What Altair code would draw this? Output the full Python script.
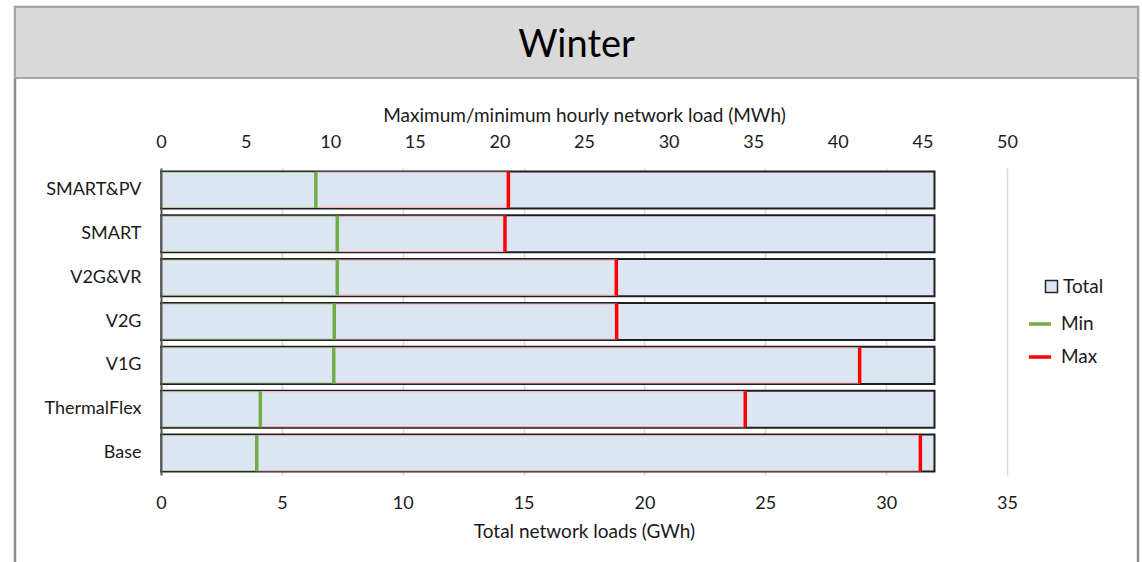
import altair as alt
import pandas as pd

# Scenario results for the winter period
scenarios = ["SMART&PV", "SMART", "V2G&VR", "V2G", "V1G", "ThermalFlex", "Base"]
total_gwh = [32.0, 32.0, 32.0, 32.0, 32.0, 32.0, 32.0]
min_mwh = [9.15, 10.42, 10.42, 10.24, 10.21, 5.87, 5.66]
max_mwh = [20.53, 20.33, 26.91, 26.93, 41.29, 34.53, 44.88]

gwh_ticks = [0, 5, 10, 15, 20, 25, 30, 35]
mwh_ticks = [0, 5, 10, 15, 20, 25, 30, 35, 40, 45, 50]

df = pd.DataFrame({
    "scenario": scenarios,
    "Total": total_gwh,
    "Min": min_mwh,
    "Max": max_mwh,
    "kind": ["Total"] * len(scenarios),
})

FONT = "Lato"
TXT = "#1a1a1a"
LABEL_SIZE = 18
TITLE_SIZE = 19
W, H = 846, 307

y_enc = alt.Y(
    "scenario:N",
    sort=scenarios,
    scale=alt.Scale(paddingInner=0.155, paddingOuter=0.0775),
    axis=alt.Axis(
        title=None, labelFont=FONT, labelFontSize=LABEL_SIZE, labelColor=TXT,
        labelPadding=20, ticks=False, domainColor="#595959", domainWidth=2,
        grid=False, zindex=1,
    ),
)

base = alt.Chart(df)

# Frame and header panel around the chart
deco = alt.Chart(pd.DataFrame({"k": [0]}))
frame = deco.mark_rect(fillOpacity=0, stroke="#8c8c8c", strokeWidth=2.5).encode(
    x=alt.value(-146), x2=alt.value(977), y=alt.value(-161), y2=alt.value(420)
)
header = deco.mark_rect(fill="#d9d9d9", stroke="#a6a6a6", strokeWidth=2).encode(
    x=alt.value(-146), x2=alt.value(977), y=alt.value(-161), y2=alt.value(-90)
)

# Total network load bars (GWh, bottom axis)
totals = base.mark_bar(stroke="#1f1f1f", strokeWidth=2).encode(
    y=y_enc,
    x=alt.X(
        "Total:Q",
        scale=alt.Scale(domain=[0, 35], nice=False, zero=True),
        axis=alt.Axis(
            orient="bottom", values=gwh_ticks, title="Total network loads (GWh)",
            grid=True, gridColor="#d9d9d9", gridWidth=1.5, ticks=False, tickSize=0,
            domain=False, labelFlush=False, labelFont=FONT, labelFontSize=LABEL_SIZE,
            labelColor=TXT, labelPadding=19, titleFont=FONT, titleFontSize=TITLE_SIZE,
            titleFontWeight="normal", titleColor=TXT, titlePadding=10,
        ),
    ),
    fill=alt.Fill(
        "kind:N",
        scale=alt.Scale(domain=["Total"], range=["#dce6f2"]),
        legend=alt.Legend(
            title=None, orient="none", legendX=881, legendY=109,
            symbolType="square", symbolSize=144, symbolStrokeColor="#262626",
            symbolStrokeWidth=1.5, labelFont=FONT, labelFontSize=TITLE_SIZE,
            labelColor=TXT, labelOffset=2,
        ),
    ),
)

mwh_axis = alt.Axis(
    orient="top", values=mwh_ticks, title="Maximum/minimum hourly network load (MWh)",
    grid=False, ticks=False, tickSize=0, domain=False, labelFlush=False,
    labelFont=FONT, labelFontSize=LABEL_SIZE, labelColor=TXT, labelPadding=17,
    titleFont=FONT, titleFontSize=TITLE_SIZE, titleFontWeight="normal",
    titleColor=TXT, titlePadding=8,
)
mwh_scale = alt.Scale(domain=[0, 50], nice=False, zero=True)

# Faint outlines of the 0-min and min-max segments
seg_low = base.mark_bar(size=35, fillOpacity=0, stroke="#b7d3a2", strokeWidth=1).encode(
    y=y_enc,
    x=alt.X("Min:Q", scale=mwh_scale, axis=mwh_axis),
    x2=alt.X2(datum=0),
)
seg_range = base.mark_bar(size=35, fillOpacity=0, stroke="#f2b3bb", strokeWidth=1.2).encode(
    y=y_enc,
    x=alt.X("Min:Q", scale=mwh_scale, axis=mwh_axis),
    x2="Max:Q",
)

# Minimum / maximum hourly load markers (MWh, top axis)
marks = base.transform_fold(["Min", "Max"], as_=["series", "value"]).mark_tick(
    filled=False, size=34, thickness=1.5, strokeWidth=2, opacity=1
).encode(
    y=y_enc,
    x=alt.X("value:Q", scale=mwh_scale, axis=mwh_axis),
    color=alt.Color(
        "series:N",
        scale=alt.Scale(domain=["Min", "Max"], range=["#70ad47", "#ff0000"]),
        legend=alt.Legend(
            title=None, orient="none", legendX=866, legendY=143,
            symbolType="stroke", symbolSize=484, symbolStrokeWidth=3.5,
            labelFont=FONT, labelFontSize=TITLE_SIZE, labelColor=TXT, labelOffset=8,
            rowPadding=10,
        ),
    ),
)

mwh_layers = alt.layer(seg_low, seg_range, marks)

chart = alt.layer(frame, header, totals, mwh_layers).resolve_scale(
    x="independent"
).properties(
    width=W,
    height=H,
    title=alt.TitleParams(
        "Winter", font=FONT, fontSize=38, fontWeight="normal", color="#000000",
        anchor="middle", frame="group", dx=-7.5, baseline="middle", offset=-78,
    ),
    autosize=alt.AutoSizeParams(type="none"),
    padding={"left": 161, "top": 168, "right": 135, "bottom": 87},
).configure(background="white", view=alt.ViewConfig(stroke=None))

chart.save("out.html", embed_options={"renderer": "svg", "actions": False})
